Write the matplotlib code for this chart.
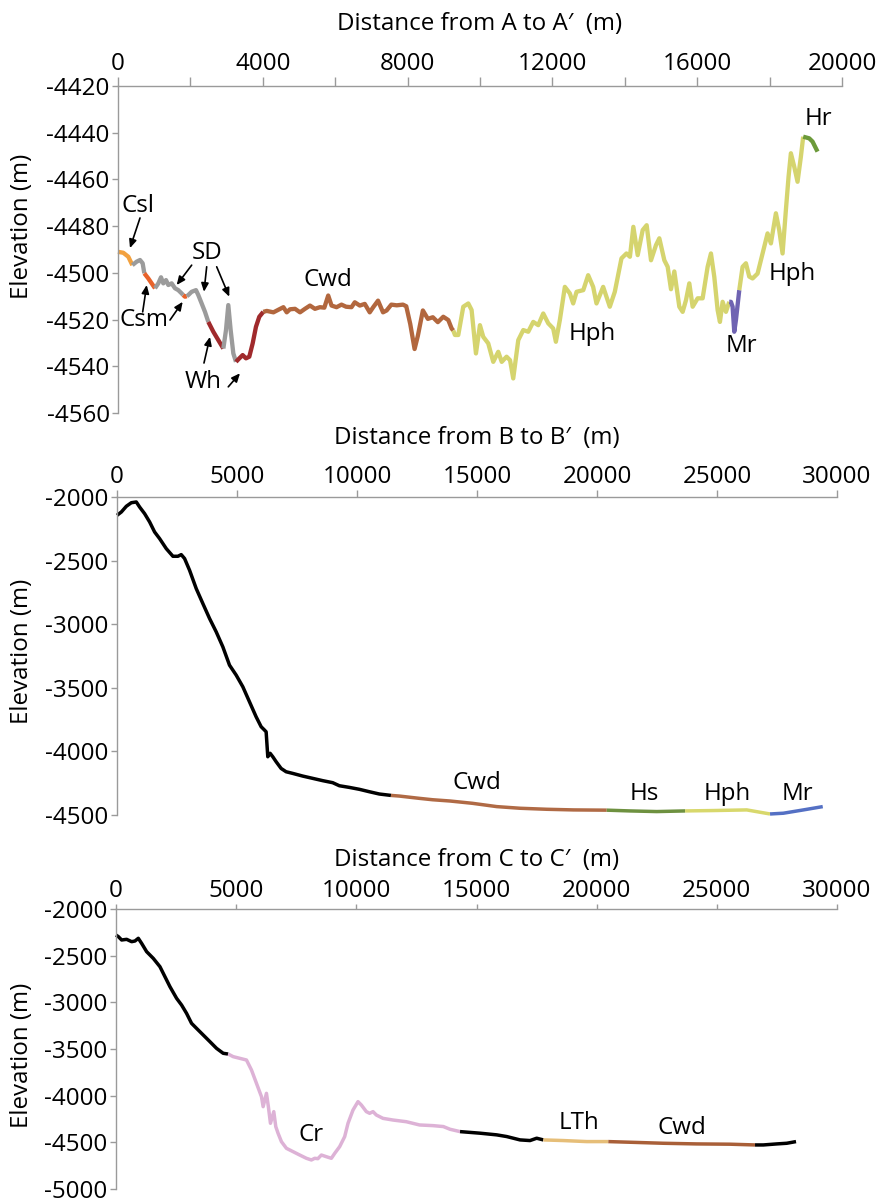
import numpy as np
import matplotlib
matplotlib.use("Agg")
import matplotlib.pyplot as plt
from matplotlib.ticker import MultipleLocator

plt.rcParams['font.family'] = ['Open Sans', 'DejaVu Sans']

# ---------------- Profile A-A' ----------------
A_dist = [0, 147, 285, 396, 516, 608, 681, 727, 838, 930,
          1022, 1114, 1188, 1252, 1326, 1390, 1482, 1574, 1666, 1758,
          1800, 1850, 1900, 1942, 2035, 2154, 2218, 2311, 2403, 2495,
          2633, 2771, 2910, 2983, 3047, 3112, 3186, 3259, 3352, 3444,
          3535, 3627, 3720, 3811, 3903, 4013, 4110, 4294, 4430, 4569,
          4661, 4750, 4890, 5028, 5165, 5303, 5440, 5578, 5700, 5807,
          5899, 6037, 6174, 6300, 6450, 6541, 6679, 6817, 6954, 7050,
          7183, 7321, 7420, 7550, 7700, 7872, 7963, 8073, 8193, 8284,
          8422, 8560, 8697, 8835, 8986, 9124, 9216, 9262, 9308, 9400,
          9538, 9676, 9768, 9888, 9998, 10090, 10228, 10366, 10504, 10600,
          10734, 10830, 10918, 11057, 11195, 11333, 11471, 11609, 11747, 11885,
          12022, 12096, 12206, 12344, 12482, 12574, 12668, 12853, 12988, 13126,
          13218, 13402, 13586, 13724, 13908, 14046, 14141, 14236, 14356, 14494,
          14604, 14724, 14862, 14954, 15092, 15184, 15276, 15368, 15506, 15598,
          15690, 15782, 15874, 16012, 16150, 16288, 16380, 16472, 16564, 16628,
          16702, 16794, 16886, 16932, 16978, 17024, 17070, 17162, 17254, 17346,
          17438, 17530, 17668, 17806, 17944, 18036, 18174, 18266, 18358, 18450,
          18524, 18588, 18680, 18772, 18864, 18928, 19094, 19186, 19324]
A_elev = [-4491.0, -4491.4, -4493.1, -4496.7, -4495.2, -4494.5, -4495.9, -4500.2, -4502.4, -4504.5,
          -4506.6, -4504.5, -4501.9, -4504.5, -4503.1, -4505.2, -4504.5, -4506.6, -4507.4, -4508.8,
          -4509.5, -4510.2, -4510.0, -4509.5, -4508.1, -4507.4, -4509.5, -4513.1, -4516.7, -4521.0,
          -4525.2, -4528.8, -4532.4, -4524.5, -4513.8, -4524.5, -4534.5, -4538.1, -4536.6, -4535.2,
          -4536.6, -4535.9, -4530.2, -4523.1, -4518.8, -4516.7, -4516.3, -4516.9, -4515.8, -4514.7,
          -4516.9, -4515.6, -4515.4, -4516.9, -4515.4, -4514.0, -4515.4, -4514.7, -4514.9, -4509.7,
          -4514.0, -4514.7, -4513.6, -4514.5, -4514.7, -4512.6, -4514.0, -4513.3, -4516.9, -4514.7,
          -4511.9, -4516.9, -4516.1, -4513.6, -4513.9, -4513.6, -4514.3, -4521.9, -4532.6, -4526.9,
          -4516.1, -4519.7, -4519.0, -4521.1, -4518.8, -4520.2, -4523.8, -4524.7, -4526.6, -4526.6,
          -4514.5, -4513.1, -4515.9, -4534.5, -4522.4, -4527.4, -4530.2, -4538.1, -4533.8, -4538.1,
          -4535.9, -4537.4, -4545.2, -4528.8, -4524.5, -4525.2, -4521.0, -4522.4, -4517.4, -4521.6,
          -4523.8, -4529.5, -4520.2, -4506.0, -4508.8, -4513.1, -4508.1, -4507.4, -4501.0, -4506.0,
          -4513.1, -4506.0, -4514.5, -4508.1, -4493.8, -4491.7, -4493.1, -4480.3, -4492.4, -4481.7,
          -4479.6, -4494.6, -4488.1, -4485.2, -4494.6, -4497.4, -4507.0, -4499.4, -4514.5, -4516.7,
          -4511.7, -4504.5, -4514.5, -4510.9, -4510.9, -4497.4, -4491.7, -4501.7, -4515.9, -4521.0,
          -4512.4, -4516.7, -4512.4, -4512.4, -4514.5, -4525.2, -4520.2, -4507.4, -4497.4, -4495.9,
          -4501.6, -4502.4, -4500.3, -4491.7, -4483.1, -4487.4, -4474.5, -4481.7, -4491.7, -4473.1,
          -4458.8, -4448.8, -4454.5, -4461.0, -4450.3, -4441.7, -4442.4, -4443.8, -4448.1]
A_units = ["Csl", "SD", "Csm", "SD", "Csm", "SD", "Wh", "SD", "Wh", "Cwd", "Hph", "Mr", "Hph", "Hr"]
A_breaks = [0, 396, 727, 1022, 1800, 1900, 2495, 2910, 3259, 4013, 9262, 16886, 17162, 18928, 19324]

# ---------------- Profile B-B' ----------------
B_dist = [0, 180, 388, 596, 804, 943, 1151, 1359, 1567, 1775,
          2053, 2330, 2538, 2677, 2816, 3024, 3301, 3578, 3856, 4133,
          4410, 4688, 4965, 5243, 5520, 5797, 6006, 6144, 6214, 6283,
          6380, 6491, 6630, 6838, 7046, 7323, 7739, 8155, 8571, 8988,
          9265, 9681, 10097, 10513, 10929, 11415, 11761, 12594, 13148, 13876,
          14806, 15822, 16793, 17906, 19014, 20406, 21376, 22489, 23669, 24847,
          26239, 27210, 27765, 28599, 29406]
B_elev = [-2144, -2118, -2073, -2045, -2039, -2079, -2131, -2196, -2275, -2327,
          -2406, -2466, -2466, -2453, -2484, -2576, -2720, -2838, -2955, -3060,
          -3178, -3322, -3400, -3492, -3610, -3728, -3806, -3832, -3846, -4042,
          -4015, -4042, -4081, -4134, -4160, -4173, -4194, -4212, -4230, -4246,
          -4270, -4283, -4298, -4317, -4335, -4346, -4351, -4369, -4380, -4390,
          -4408, -4434, -4447, -4455, -4460, -4462, -4468, -4473, -4468, -4465,
          -4460, -4492, -4486, -4460, -4434]
B_units = ["", "Cwd", "Hs", "Hph", "Mr"]
B_breaks = [0, 11415, 20406, 23669, 27210, 29406]

# ---------------- Profile C-C' ----------------
C_dist = [0, 97, 235, 443, 651, 789, 928, 1066, 1274, 1551,
          1828, 2036, 2244, 2521, 2729, 2936, 3144, 3352, 3629, 3906,
          4183, 4460, 4668, 4875, 5152, 5429, 5637, 5845, 6053, 6122,
          6260, 6340, 6427, 6565, 6648, 6745, 6884, 7091, 7368, 7645,
          7922, 8130, 8269, 8400, 8546, 8753, 8961, 9100, 9307, 9515,
          9654, 9861, 10069, 10208, 10416, 10554, 10693, 10831, 11108, 11524,
          12078, 12632, 13186, 13620, 13898, 14314, 15146, 15841, 16257, 16811,
          17226, 17504, 17782, 18613, 19585, 20485, 21387, 22773, 24164, 25549,
          26589, 26935, 27492, 27908, 28295]
C_elev = [-2279, -2296, -2332, -2325, -2350, -2343, -2314, -2368, -2457, -2529,
          -2618, -2725, -2832, -2957, -3029, -3118, -3225, -3279, -3350, -3421,
          -3493, -3546, -3554, -3582, -3600, -3618, -3725, -3868, -4011, -4118,
          -3975, -4118, -4296, -4171, -4332, -4404, -4493, -4564, -4600, -4636,
          -4671, -4689, -4671, -4675, -4636, -4654, -4671, -4618, -4546, -4439,
          -4296, -4154, -4064, -4100, -4171, -4189, -4171, -4207, -4243, -4261,
          -4279, -4314, -4321, -4331, -4360, -4385, -4402, -4420, -4438, -4474,
          -4481, -4456, -4474, -4481, -4492, -4492, -4499, -4510, -4517, -4520,
          -4528, -4528, -4517, -4510, -4492]
C_units = ["", "Cr", "", "LTh", "Cwd", ""]
C_breaks = [0, 4668, 14314, 17782, 20485, 26589, 28295]

# unit colours
A_colors = {"Csl": "#F2A13F", "SD": "#9B9B9B", "Csm": "#E8622A", "Wh": "#A02A2C",
            "Cwd": "#B2673E", "Hph": "#D5D46E", "Mr": "#6F63B2", "Hr": "#6C9A3A"}
B_colors = {"": "#000000", "Cwd": "#B06A45", "Hs": "#6E9140", "Hph": "#D8D86C", "Mr": "#5470C4"}
C_colors = {"": "#000000", "Cr": "#DDB2D6", "LTh": "#E6BE78", "Cwd": "#A95F38"}

# labels (text, distance, elevation)
A_labels = [("Cwd", 5800, -4503.2), ("Hph", 13092, -4526.0), ("Mr", 17235, -4531.5),
            ("Hph", 18616, -4500.3), ("Hr", 19362, -4434.0)]
# arrowed labels: text, text position, list of arrow (tail, head)
A_arrow_labels = [
    ("Csl", (552, -4471.5), [((608, -4476.5), (331, -4489.4))]),
    ("Csm", (718, -4520.3), [((682, -4516.7), (793, -4505.2)), ((1436, -4520.2), (1787, -4512.4))]),
    ("SD", (2458, -4491.6), [((2035, -4496.7), (1621, -4505.2)), ((2450, -4497.4), (2375, -4508.1)),
                             ((2726, -4497.4), (3074, -4510.2))]),
    ("Wh", (2348, -4546.8), [((2375, -4538.6), (2541, -4527.4)), ((3046, -4548.8), (3370, -4543.0))]),
]
B_labels = [("Cwd", 15000, -4245), ("Hs", 21960, -4332), ("Hph", 25420, -4332), ("Mr", 28336, -4332)]
C_labels = [("Cr", 8114, -4425), ("LTh", 19265, -4297), ("Cwd", 23551, -4350)]

FS = 17.4
GRAY = "#9A9A9A"

fig = plt.figure(figsize=(8.8, 11.99), dpi=100)
W, H = 880.0, 1199.0


def make_ax(l, r, t, b):
    return fig.add_axes([l / W, 1 - b / H, (r - l) / W, (b - t) / H])


def style(ax, xlim, ylim, xmaj, xmin, ymaj, xlabel, xl_y, yl_x, yl_y, xtl, ytl):
    ax.set_xlim(*xlim)
    ax.set_ylim(*ylim)
    for s in ["right", "bottom"]:
        ax.spines[s].set_visible(False)
    for s in ["left", "top"]:
        ax.spines[s].set_color(GRAY)
        ax.spines[s].set_linewidth(1.0)
    ax.xaxis.tick_top()
    ax.xaxis.set_major_locator(MultipleLocator(xmaj))
    ax.xaxis.set_minor_locator(MultipleLocator(xmin))
    ax.yaxis.set_major_locator(MultipleLocator(ymaj))
    ax.tick_params(axis="x", which="both", direction="out", length=xtl, width=1.0,
                   color=GRAY, labelsize=FS, pad=1)
    ax.tick_params(axis="y", which="both", direction="out", length=ytl, width=1.0,
                   color=GRAY, labelsize=FS, pad=2)
    ax.set_xticks(ax.get_xticks())
    ax.set_xticklabels([f"{int(v)}" for v in ax.get_xticks()])
    ax.set_yticks(ax.get_yticks())
    ax.set_yticklabels([f"{int(v)}" for v in ax.get_yticks()])
    ax.set_xlim(*xlim)
    ax.set_ylim(*ylim)
    ax.text(0.5, xl_y, xlabel, transform=ax.transAxes, ha="center", va="center", fontsize=FS)
    ax.text(yl_x, yl_y, "Elevation (m)", transform=ax.transAxes, ha="center", va="center",
            rotation=90, fontsize=FS)
    ax.patch.set_visible(False)


def draw_profile(ax, dist, elev, units, breaks, colors, lw):
    d = np.asarray(dist, float)
    e = np.asarray(elev, float)
    for i, u in enumerate(units):
        m = (d >= breaks[i]) & (d <= breaks[i + 1])
        ax.plot(d[m], e[m], color=colors[u], lw=lw, solid_capstyle="butt",
                solid_joinstyle="round", clip_on=False)


# Panel A
axA = make_ax(118, 842, 86, 413)
draw_profile(axA, A_dist, A_elev, A_units, A_breaks, A_colors, 3.1)
style(axA, (0, 20000), (-4560, -4420), 4000, 2000, 20, "Distance from A to A\u2032  (m)",
      1.19, -0.1326, 0.572, 6.5, 4)
for t, x, y in A_labels:
    axA.text(x, y, t, ha="center", va="center", fontsize=FS)
for t, pos, arrows in A_arrow_labels:
    axA.text(pos[0], pos[1], t, ha="center", va="center", fontsize=FS)
    for tail, head in arrows:
        axA.annotate("", xy=head, xytext=tail,
                     arrowprops=dict(arrowstyle="-|>,head_length=0.5,head_width=0.22",
                                     color="black", lw=1.2, shrinkA=0, shrinkB=0))

# Panel B
axB = make_ax(117, 837, 497, 815)
draw_profile(axB, B_dist, B_elev, B_units, B_breaks, B_colors, 2.5)
style(axB, (0, 30000), (-4500, -2000), 5000, 5000, 500, "Distance from B to B\u2032  (m)",
      1.186, -0.132, 0.516, 5, 4)
for t, x, y in B_labels:
    axB.text(x, y, t, ha="center", va="center", fontsize=FS)

# Panel C
axC = make_ax(116, 837, 909, 1189)
draw_profile(axC, C_dist, C_elev, C_units, C_breaks, C_colors, 2.5)
style(axC, (0, 30000), (-5000, -2000), 5000, 5000, 500, "Distance from C to C\u2032  (m)",
      1.175, -0.130, 0.479, 3.5, 4)
for t, x, y in C_labels:
    axC.text(x, y, t, ha="center", va="center", fontsize=FS)

fig.savefig("out.png", dpi=100, facecolor="white")
